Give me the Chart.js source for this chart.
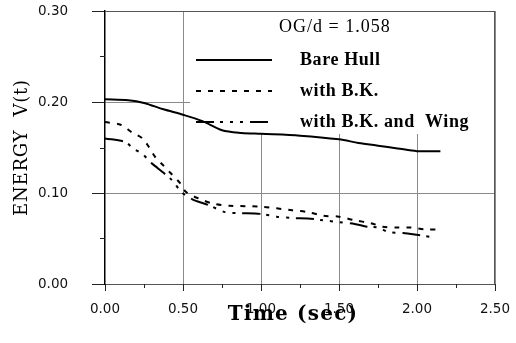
<!DOCTYPE html>
<html lang="en">
<head>
    <meta charset="UTF-8">
    <title>Energy V(t) - Time</title>
    <style>
        html, body {
            margin: 0;
            padding: 0;
            background: #fff;
        }
        canvas {
            display: block;
        }
    </style>
</head>
<body>
    <canvas id="energyChart" width="516" height="343"></canvas>
    <script src="https://cdn.jsdelivr.net/npm/chart.js"></script>
    <script>
        // Time (sec) and energy V(t) for each hull configuration
        const bareHullTime = [0, 0.15, 0.25, 0.375, 0.5, 0.625, 0.75, 0.875, 1.0, 1.25, 1.5, 1.625, 1.75, 1.875, 2.0, 2.15];
        const bareHullEnergy = [0.203, 0.202, 0.199, 0.192, 0.186, 0.179, 0.169, 0.166, 0.165, 0.163, 0.159, 0.155, 0.152, 0.149, 0.146, 0.146];

        const bkTime = [0, 0.1, 0.17, 0.24, 0.28, 0.32, 0.37, 0.42, 0.48, 0.52, 0.6, 0.7, 0.8, 1.0, 1.2, 1.3, 1.4, 1.5, 1.6, 1.7, 1.78, 1.87, 1.96, 2.05, 2.15];
        const bkEnergy = [0.178, 0.175, 0.167, 0.160, 0.151, 0.140, 0.131, 0.122, 0.111, 0.101, 0.094, 0.088, 0.086, 0.085, 0.081, 0.079, 0.075, 0.074, 0.070, 0.067, 0.063, 0.062, 0.062, 0.060, 0.060];

        const wingTime = [0, 0.13, 0.18, 0.24, 0.29, 0.34, 0.43, 0.49, 0.56, 0.66, 0.77, 0.85, 1.0, 1.1, 1.2, 1.3, 1.4, 1.5, 1.6, 1.68, 1.75, 1.82, 1.91, 2.0, 2.12];
        const wingEnergy = [0.160, 0.156, 0.149, 0.143, 0.134, 0.127, 0.114, 0.101, 0.093, 0.087, 0.079, 0.078, 0.077, 0.074, 0.0725, 0.072, 0.070, 0.068, 0.066, 0.063, 0.062, 0.057, 0.056, 0.054, 0.051];

        const seriesNames = ['Bare Hull', 'with B.K.', 'with B.K. and  Wing'];
        const keyTitle = 'OG/d = 1.058';
        const xMinorTicks = [0.25, 0.75, 1.25, 1.75, 2.25];
        const yMinorTicks = [0.05, 0.15, 0.25];

        const SERIF = '"Liberation Serif", "Times New Roman", serif';
        const WIDE_SERIF = '"DejaVu Serif", serif';
        const SANS = '"DejaVu Sans", Arial, sans-serif';

        function toPoints(xs, ys) {
            return xs.map((x, i) => ({ x: x, y: ys[i] }));
        }

        // key panel placement inside the plot (pixels)
        const key = { left: 190, bottom: 134, lineFrom: 196, lineTo: 272, textX: 300, titleX: 279, titleY: 27, rows: [60, 91, 122] };

        function drawSpaced(ctx, text, x, y, spacing) {
            ctx.letterSpacing = spacing + 'px';
            ctx.fillText(text, x, y);
            ctx.letterSpacing = '0px';
        }

        const keyPlugin = {
            id: 'keyPanel',
            beforeDatasetsDraw(chart) {
                const { ctx, chartArea: a } = chart;
                ctx.save();
                ctx.fillStyle = '#fff';
                ctx.fillRect(key.left, a.top, a.right - key.left, key.bottom - a.top);

                // top and right frame lines
                ctx.strokeStyle = '#555';
                ctx.lineWidth = 1;
                ctx.beginPath();
                ctx.moveTo(a.left, a.top + 0.5);
                ctx.lineTo(a.right, a.top + 0.5);
                ctx.moveTo(a.right - 0.5, a.top);
                ctx.lineTo(a.right - 0.5, a.bottom);
                ctx.stroke();

                ctx.fillStyle = '#000';
                ctx.textBaseline = 'middle';
                ctx.textAlign = 'left';
                ctx.font = '18px ' + SERIF;
                drawSpaced(ctx, keyTitle, key.titleX, key.titleY, 1);

                chart.data.datasets.forEach((ds, i) => {
                    const y = key.rows[i];
                    ctx.strokeStyle = ds.borderColor;
                    ctx.lineWidth = ds.borderWidth;
                    ctx.setLineDash(ds.borderDash || []);
                    ctx.beginPath();
                    ctx.moveTo(key.lineFrom, y);
                    ctx.lineTo(key.lineTo, y);
                    ctx.stroke();
                    ctx.setLineDash([]);
                    ctx.font = 'bold 18px ' + SERIF;
                    drawSpaced(ctx, ds.label, key.textX, y, 0.6);
                });
                ctx.restore();
            },
            afterDraw(chart) {
                const { ctx, chartArea: a, scales } = chart;
                ctx.save();
                // x tick marks (major and minor) and minor y ticks
                ctx.strokeStyle = '#222';
                ctx.lineWidth = 1;
                ctx.beginPath();
                scales.x.ticks.forEach(t => {
                    const x = Math.round(scales.x.getPixelForValue(t.value)) + 0.5;
                    ctx.moveTo(x, a.bottom);
                    ctx.lineTo(x, a.bottom + 7);
                });
                xMinorTicks.forEach(v => {
                    const x = Math.round(scales.x.getPixelForValue(v)) + 0.5;
                    ctx.moveTo(x, a.bottom);
                    ctx.lineTo(x, a.bottom + 4);
                });
                yMinorTicks.forEach(v => {
                    const y = Math.round(scales.y.getPixelForValue(v)) + 0.5;
                    ctx.moveTo(a.left - 5, y);
                    ctx.lineTo(a.left, y);
                });
                ctx.stroke();

                // axis titles
                ctx.fillStyle = '#000';
                ctx.textAlign = 'center';
                ctx.textBaseline = 'middle';
                ctx.font = 'bold 20px ' + WIDE_SERIF;
                drawSpaced(ctx, 'Time (sec)', (a.left + a.right) / 2 - 7, 315, 1.2);

                ctx.translate(22, (a.top + a.bottom) / 2);
                ctx.rotate(-Math.PI / 2);
                ctx.font = '18px ' + WIDE_SERIF;
                drawSpaced(ctx, 'ENERGY  V(t)', 0, 0, 0.8);
                ctx.restore();
            }
        };

        const ctx = document.getElementById('energyChart').getContext('2d');

        new Chart(ctx, {
            type: 'line',
            data: {
                datasets: [
                    {
                        label: seriesNames[0],
                        data: toPoints(bareHullTime, bareHullEnergy),
                        borderColor: '#000',
                        borderWidth: 2,
                        tension: 0.3
                    },
                    {
                        label: seriesNames[1],
                        data: toPoints(bkTime, bkEnergy),
                        borderColor: '#000',
                        borderWidth: 2,
                        borderDash: [5, 7],
                        tension: 0.3
                    },
                    {
                        label: seriesNames[2],
                        data: toPoints(wingTime, wingEnergy),
                        borderColor: '#000',
                        borderWidth: 2,
                        borderDash: [18, 6, 3, 7, 3, 7, 3, 7],
                        tension: 0.3
                    }
                ]
            },
            plugins: [keyPlugin],
            options: {
                responsive: false,
                animation: false,
                devicePixelRatio: 1,
                layout: { padding: { top: 11, right: 21, left: 38, bottom: 0 } },
                elements: { point: { radius: 0 } },
                plugins: {
                    legend: { display: false },
                    tooltip: { enabled: false }
                },
                scales: {
                    x: {
                        type: 'linear',
                        min: 0,
                        max: 2.5,
                        afterFit: (scale) => { scale.height = 59; },
                        ticks: {
                            stepSize: 0.5,
                            padding: 3,
                            color: '#111',
                            font: { family: SANS, size: 13.5 },
                            maxRotation: 0,
                            callback: (v) => v.toFixed(2)
                        },
                        grid: {
                            color: (c) => (c.tick && c.tick.value === 0) ? 'rgba(0,0,0,0)' : '#8a8a8a',
                            tickColor: 'rgba(0,0,0,0)',
                            tickLength: 14,
                            lineWidth: 1
                        },
                        border: { color: '#555', width: 1 }
                    },
                    y: {
                        min: 0,
                        max: 0.3,
                        afterFit: (scale) => { scale.width = 67; },
                        ticks: {
                            stepSize: 0.1,
                            padding: 0,
                            crossAlign: 'far',
                            color: '#111',
                            font: { family: SANS, size: 13.5 },
                            callback: (v) => v.toFixed(2)
                        },
                        grid: {
                            color: (c) => (c.tick && c.tick.value === 0) ? 'rgba(0,0,0,0)' : '#8a8a8a',
                            tickColor: '#222',
                            tickLength: 13,
                            lineWidth: 1
                        },
                        border: { color: '#000', width: 1.5 }
                    }
                }
            }
        });
    </script>
</body>
</html>
